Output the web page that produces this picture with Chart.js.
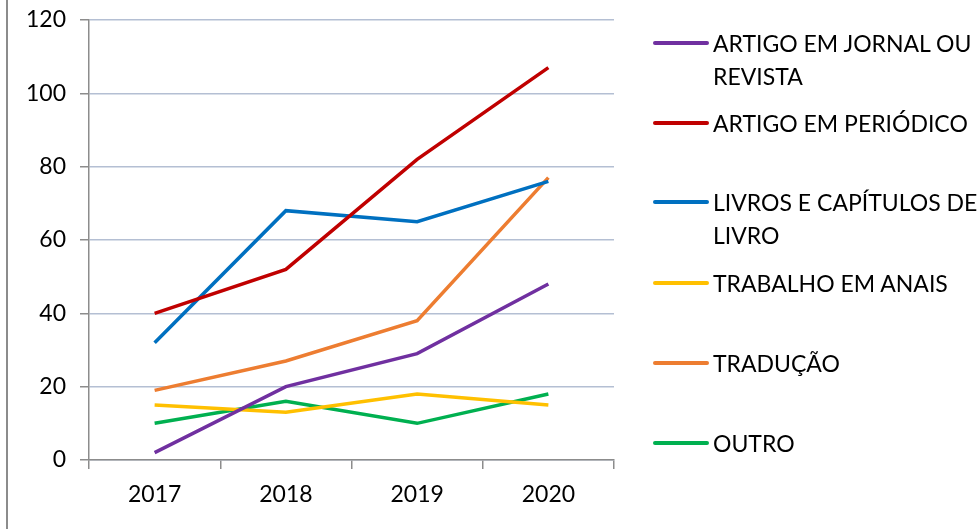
<!DOCTYPE html>
<html>
<head>
<meta charset="utf-8">
<script src="https://cdn.jsdelivr.net/npm/chart.js@4.4.0/dist/chart.umd.min.js"></script>
<style>
    body { margin: 0; background: #fff; }
    #wrap { position: relative; width: 980px; height: 529px; }
    #frame { position: absolute; left: 6px; top: 0; height: 529px; border-left: 2px solid #8c8c8c; }
    #legend { position: absolute; left: 653px; top: 0; font-family: Lato, sans-serif; font-size: 23px; color: #000; }
    .item { position: absolute; left: 0; white-space: nowrap; }
    .swatch { position: absolute; left: 0; width: 56px; height: 4px; border-radius: 2px; }
    .txt { position: absolute; left: 60px; line-height: 33px; }
</style>
</head>
<body>
<div id="wrap">
    <canvas id="chart" width="980" height="529"></canvas>
    <div id="frame"></div>
    <div id="legend"></div>
</div>
<script>
const years = ['2017', '2018', '2019', '2020'];

const seriesNames = [
    ['ARTIGO EM JORNAL OU', 'REVISTA'],
    ['ARTIGO EM PERIÓDICO'],
    ['LIVROS E CAPÍTULOS DE', 'LIVRO'],
    ['TRABALHO EM ANAIS'],
    ['TRADUÇÃO'],
    ['OUTRO']
];
const seriesColors = ['#7030A0', '#C00000', '#0070C0', '#FFC000', '#ED7D31', '#00B050'];

const artigoJornal = [2, 20, 29, 48];
const artigoPeriodico = [40, 52, 82, 107];
const livros = [32, 68, 65, 76];
const anais = [15, 13, 18, 15];
const traducao = [19, 27, 38, 77];
const outro = [10, 16, 10, 18];
const allSeries = [artigoJornal, artigoPeriodico, livros, anais, traducao, outro];

const yTicks = [0, 20, 40, 60, 80, 100, 120];

// legend item centres (first line)
const legendRows = [43, 123, 202, 283, 363, 443];

const datasets = allSeries.map((values, i) => ({
    label: seriesNames[i].join(' '),
    data: values,
    borderColor: seriesColors[i],
    backgroundColor: seriesColors[i],
    borderWidth: 3.5,
    pointRadius: 0,
    tension: 0,
    fill: false
}));

const tickFont = { family: 'Lato', size: 23 };

new Chart(document.getElementById('chart').getContext('2d'), {
    type: 'line',
    data: { labels: years, datasets: datasets },
    options: {
        responsive: false,
        animation: false,
        layout: { padding: { left: 0, right: 366, top: 20, bottom: 0 } },
        plugins: { legend: { display: false }, tooltip: { enabled: false } },
        scales: {
            x: {
                offset: true,
                grid: { offset: true, drawOnChartArea: false, color: '#8c8c8c', tickLength: 9, lineWidth: 1.5 },
                border: { color: '#8c8c8c', width: 1.5 },
                ticks: { color: '#000', font: tickFont, padding: 12 },
                afterFit: (scale) => { scale.height = 69; }
            },
            y: {
                min: 0,
                max: 120,
                afterBuildTicks: (scale) => { scale.ticks = yTicks.map(v => ({ value: v })); },
                grid: { color: '#b4bfd3', lineWidth: 1.5, tickLength: 9, tickColor: '#8c8c8c' },
                border: { color: '#8c8c8c', width: 1.5 },
                ticks: { color: '#000', font: tickFont, padding: 14 },
                afterFit: (scale) => {
                    scale.width = 89;
                    // don't let the top label push the plot down
                    scale.paddingTop = 0;
                    scale.paddingBottom = 0;
                }
            }
        }
    }
});

// legend built from the same arrays
const legend = document.getElementById('legend');
seriesNames.forEach((name, i) => {
    const item = document.createElement('div');
    item.className = 'item';
    item.style.top = legendRows[i] + 'px';
    const sw = document.createElement('div');
    sw.className = 'swatch';
    sw.style.background = seriesColors[i];
    sw.style.top = '-2px';
    const txt = document.createElement('div');
    txt.className = 'txt';
    txt.style.top = '-16.5px';
    txt.innerHTML = name.join('<br>');
    item.appendChild(sw);
    item.appendChild(txt);
    legend.appendChild(item);
});
</script>
</body>
</html>
